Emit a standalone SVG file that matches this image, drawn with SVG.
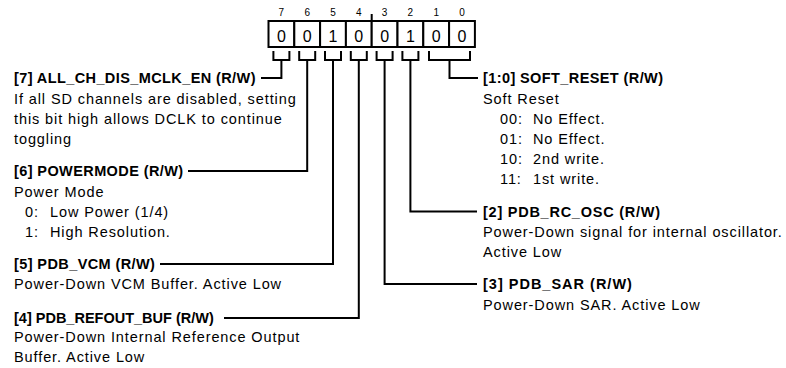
<svg xmlns="http://www.w3.org/2000/svg" width="786" height="368" viewBox="0 0 786 368">
<style>
text{font-family:"Liberation Sans",Arial,sans-serif;fill:#000}
.h{font-size:14.5px;font-weight:bold;letter-spacing:0.4px}
.b{font-size:14.5px;letter-spacing:0.9px}
.bn{font-size:10px;text-anchor:middle}
.bv{font-size:16px;text-anchor:middle}
.cell{fill:#fff;stroke:#000;stroke-width:2}
.c{fill:none;stroke:#000;stroke-width:2}
</style>
<rect width="786" height="368" fill="#fff"/>
<g id="register">
<rect class="cell" x="268.5" y="21" width="25.8" height="26"/>
<rect class="cell" x="294.3" y="21" width="25.8" height="26"/>
<rect class="cell" x="320.1" y="21" width="25.8" height="26"/>
<rect class="cell" x="345.9" y="21" width="25.8" height="26"/>
<rect class="cell" x="371.7" y="21" width="25.8" height="26"/>
<rect class="cell" x="397.5" y="21" width="25.8" height="26"/>
<rect class="cell" x="423.3" y="21" width="25.8" height="26"/>
<rect class="cell" x="449.1" y="21" width="25.8" height="26"/>
<text class="bn" x="281.4" y="16">7</text>
<text class="bn" x="307.2" y="16">6</text>
<text class="bn" x="333" y="16">5</text>
<text class="bn" x="358.8" y="16">4</text>
<text class="bn" x="384.6" y="16">3</text>
<text class="bn" x="410.4" y="16">2</text>
<text class="bn" x="436.2" y="16">1</text>
<text class="bn" x="462" y="16">0</text>
<text class="bv" x="281.4" y="41.5">0</text>
<text class="bv" x="307.2" y="41.5">0</text>
<text class="bv" x="333" y="41.5">1</text>
<text class="bv" x="358.8" y="41.5">0</text>
<text class="bv" x="384.6" y="41.5">0</text>
<text class="bv" x="410.4" y="41.5">1</text>
<text class="bv" x="436.2" y="41.5">0</text>
<text class="bv" x="462" y="41.5">0</text>
<path class="c" d="M371.7,14 V21"/>
</g>
<g id="connectors">
<path class="c" d="M273.4,51 V60 H289.4 V51 M281.4,60 V78 H261"/>
<path class="c" d="M299.2,51 V60 H315.2 V51 M307.2,60 V171 H188"/>
<path class="c" d="M325,51 V60 H341 V51 M333,60 V264 H160"/>
<path class="c" d="M350.8,51 V60 H366.8 V51 M358.8,60 V318 H224"/>
<path class="c" d="M376.6,51 V60 H392.6 V51 M384.6,60 V284 H477"/>
<path class="c" d="M402.4,51 V60 H418.4 V51 M410.4,60 V211.5 H477"/>
<path class="c" d="M429,51 V60 H470 V51 M449.5,60 V78 H478"/>
</g>
<g id="field7">
<text class="h" x="14" y="83">[7] ALL_CH_DIS_MCLK_EN (R/W)</text>
<text class="b" x="14" y="104">If all SD channels are disabled, setting</text>
<text class="b" x="14" y="124">this bit high allows DCLK to continue</text>
<text class="b" x="14" y="144">toggling</text>
</g>
<g id="field6">
<text class="h" x="14" y="176">[6] POWERMODE (R/W)</text>
<text class="b" x="14" y="196.5">Power Mode</text>
<text class="b" x="25" y="216.5">0:</text>
<text class="b" x="50" y="216.5">Low Power (1/4)</text>
<text class="b" x="25" y="236.5">1:</text>
<text class="b" x="50" y="236.5">High Resolution.</text>
</g>
<g id="field5">
<text class="h" x="14" y="269">[5] PDB_VCM (R/W)</text>
<text class="b" x="14" y="289">Power-Down VCM Buffer. Active Low</text>
</g>
<g id="field4">
<text class="h" x="14" y="323" style="letter-spacing:0">[4] PDB_REFOUT_BUF (R/W)</text>
<text class="b" x="14" y="342">Power-Down Internal Reference Output</text>
<text class="b" x="14" y="362">Buffer. Active Low</text>
</g>
<g id="field1_0">
<text class="h" x="483" y="83">[1:0] SOFT_RESET (R/W)</text>
<text class="b" x="483" y="104">Soft Reset</text>
<text class="b" x="500" y="124">00:</text>
<text class="b" x="533" y="124">No Effect.</text>
<text class="b" x="500" y="144">01:</text>
<text class="b" x="533" y="144">No Effect.</text>
<text class="b" x="500" y="164">10:</text>
<text class="b" x="533" y="164">2nd write.</text>
<text class="b" x="500" y="184">11:</text>
<text class="b" x="533" y="184">1st write.</text>
</g>
<g id="field2">
<text class="h" x="483" y="216.5" style="letter-spacing:0.75px">[2] PDB_RC_OSC (R/W)</text>
<text class="b" x="483" y="237">Power-Down signal for internal oscillator.</text>
<text class="b" x="483" y="257">Active Low</text>
</g>
<g id="field3">
<text class="h" x="483" y="289" style="letter-spacing:1px">[3] PDB_SAR (R/W)</text>
<text class="b" x="483" y="309.5">Power-Down SAR. Active Low</text>
</g>
</svg>
